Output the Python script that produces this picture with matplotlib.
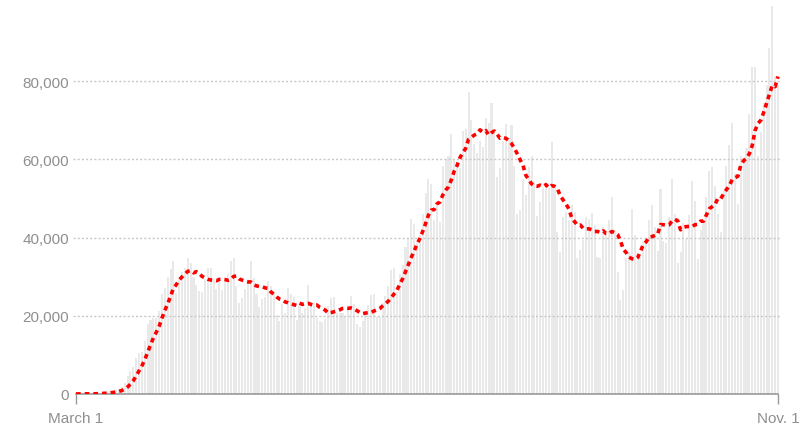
import matplotlib.pyplot as plt
import numpy as np
import pandas as pd

# daily new cases, March 1 - Nov. 1
march = [20, 25, 20, 30, 70, 60, 120, 110, 180, 280, 400, 500, 640, 700, 980, 1200,
         1800, 2700, 4500, 5800, 6900, 9300, 10600, 10700, 13600, 17800, 18900, 19400,
         19400, 21300, 25600]
april = [27200, 29900, 32000, 33900, 25900, 29600, 31100, 32200, 34800, 33500, 29800,
         27900, 26300, 26000, 29500, 32300, 32300, 29400, 26900, 28700, 26500, 28800,
         30800, 34000, 34700, 27700, 23300, 24500, 26900, 29500]
may = [34000, 29700, 25500, 22300, 24200, 24700, 28800, 27600, 25900, 20300, 18600,
       22900, 20800, 27200, 25500, 24700, 18900, 22600, 20700, 22100, 27800, 23500,
       23300, 19400, 18600, 18300, 19200, 22400, 24500, 24800, 20800]
june = [20600, 20800, 20000, 21900, 25100, 23100, 17900, 17200, 18600, 21100, 22800,
        25400, 25600, 19700, 19600, 23300, 25100, 27500, 31600, 32300, 26000, 30800,
        33000, 37700, 39900, 44700, 43500, 38700, 40700, 45900]
july = [51500, 55000, 53800, 44400, 49200, 43900, 58300, 60100, 60900, 66600, 59900,
        59400, 57800, 67200, 67800, 77200, 70100, 64000, 61700, 64800, 63100, 70600,
        69300, 74300, 66900, 55600, 57900, 64700, 69000, 65500, 68700]
august = [58400, 45900, 47000, 55000, 51000, 58000, 60800, 54400, 45600, 49000, 52700,
          54200, 52700, 64500, 53200, 41300, 36300, 45300, 46500, 44500, 48200, 46500,
          34700, 36800, 39400, 45300, 44800, 46400, 43300, 35000, 34700]
september = [42600, 40300, 44600, 50300, 41700, 31300, 24000, 26700, 34700, 36300,
             47400, 40700, 34200, 35200, 39200, 39600, 44600, 48200, 42700, 36500,
             52400, 39000, 38600, 45300, 55100, 45900, 33600, 36400, 43700, 39600]
october = [45700, 54500, 49400, 34600, 41900, 43600, 50500, 57000, 58000, 53100, 46000,
           41300, 52000, 58400, 63600, 69300, 56500, 48600, 60800, 60400, 62800, 71700,
           83700, 83700, 60800, 66900, 74300, 79000, 88500, 99300, 81300]
november = [79000]

cases = np.array(march + april + may + june + july + august + september + october + november)
avg = pd.Series(cases).rolling(7, min_periods=1).mean()
days = np.arange(len(cases))

tick_days = [0, len(cases) - 1]
tick_labels = ['March 1', 'Nov. 1']
y_ticks = [0, 20000, 40000, 60000, 80000]

plt.rcParams['font.family'] = ['Liberation Sans', 'DejaVu Sans']
gray = '#8f8f8f'

fig = plt.figure(figsize=(8.03, 4.35), dpi=100)
ax = fig.add_axes([73 / 803, 40 / 435, 707 / 803, 395 / 435])

ax.bar(days, cases, width=0.72, color='#e9e9e9', zorder=1)
for y in y_ticks[1:]:
    ax.axhline(y, color='#c8c8c8', linestyle=(0, (1.5, 1.5)), linewidth=1, zorder=2)
ax.plot(days, avg, color='#ff0000', linewidth=2.6, linestyle=(0, (1.3, 1.1)), zorder=3)

ax.set_xlim(-1.05, 245.7)
ax.set_ylim(0, 101000)

for s in ['top', 'right', 'left']:
    ax.spines[s].set_visible(False)
ax.spines['bottom'].set_bounds(0, len(cases) - 1)
ax.spines['bottom'].set_color('#999999')
ax.spines['bottom'].set_linewidth(1.2)

ax.set_xticks(tick_days)
ax.set_xticklabels(tick_labels)
ax.tick_params(axis='x', length=7, width=1, color='#999999', labelcolor=gray,
               labelsize=11, pad=5)
ax.set_yticks(y_ticks)
ax.set_yticklabels([f'{v:,}' for v in y_ticks])
ax.tick_params(axis='y', length=0, labelcolor=gray, labelsize=11, pad=3)

plt.savefig('out.png')
